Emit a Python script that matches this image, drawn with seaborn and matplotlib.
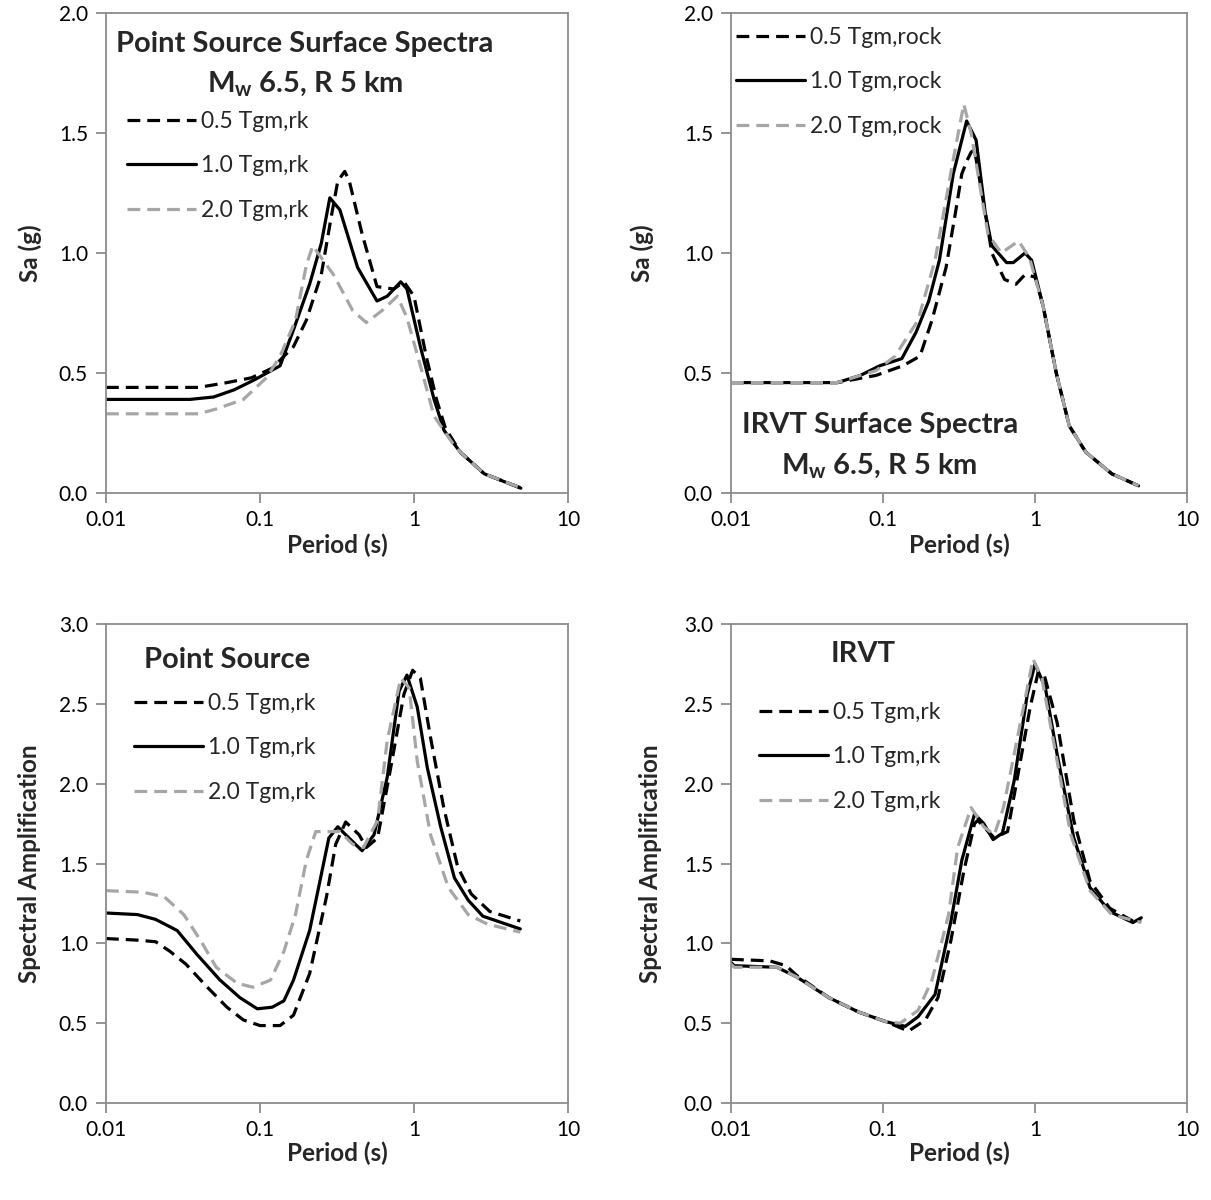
import numpy as np
import pandas as pd
import matplotlib
matplotlib.use("Agg")
import matplotlib.pyplot as plt
import matplotlib.transforms as mtransforms
import seaborn as sns
from matplotlib.ticker import FixedLocator, NullLocator

# ---------------- data ----------------
# Top-left: Point source surface spectra, Sa (g)
ps_sa_t05 = [0.01, 0.04, 0.061, 0.088, 0.12, 0.165, 0.2, 0.25, 0.29, 0.32, 0.355, 0.38, 0.46, 0.575, 0.74, 0.86, 1.0, 1.2, 1.4, 1.6, 2.0, 2.86, 5.0]
ps_sa_v05 = [0.44, 0.44, 0.46, 0.48, 0.52, 0.61, 0.72, 0.91, 1.15, 1.30, 1.34, 1.30, 1.08, 0.86, 0.85, 0.88, 0.82, 0.57, 0.39, 0.27, 0.17, 0.08, 0.02]
ps_sa_t10 = [0.01, 0.035, 0.05, 0.068, 0.091, 0.135, 0.165, 0.21, 0.25, 0.284, 0.33, 0.43, 0.575, 0.67, 0.82, 0.9, 1.1, 1.35, 1.57, 2.0, 2.86, 4.94]
ps_sa_v10 = [0.39, 0.39, 0.40, 0.43, 0.47, 0.53, 0.68, 0.87, 1.04, 1.23, 1.18, 0.94, 0.80, 0.82, 0.88, 0.85, 0.61, 0.39, 0.26, 0.17, 0.08, 0.02]
ps_sa_t20 = [0.01, 0.04, 0.052, 0.078, 0.11, 0.135, 0.17, 0.2, 0.22, 0.30, 0.40, 0.49, 0.62, 0.78, 0.90, 1.1, 1.35, 1.77, 2.0, 2.86, 5.0]
ps_sa_v20 = [0.33, 0.33, 0.35, 0.39, 0.48, 0.57, 0.72, 0.95, 1.03, 0.91, 0.76, 0.71, 0.76, 0.82, 0.73, 0.53, 0.32, 0.21, 0.17, 0.08, 0.02]

# Top-right: IRVT surface spectra, Sa (g)
irvt_sa_t05 = [0.01, 0.05, 0.09, 0.135, 0.175, 0.21, 0.26, 0.30, 0.33, 0.36, 0.38, 0.40, 0.47, 0.52, 0.63, 0.75, 0.86, 1.0, 1.13, 1.38, 1.68, 2.16, 3.2, 4.8]
irvt_sa_v05 = [0.46, 0.46, 0.49, 0.53, 0.57, 0.72, 0.94, 1.17, 1.33, 1.39, 1.42, 1.43, 1.17, 1.00, 0.89, 0.87, 0.91, 0.90, 0.78, 0.50, 0.28, 0.17, 0.08, 0.03]
irvt_sa_t10 = [0.01, 0.05, 0.071, 0.095, 0.133, 0.165, 0.2, 0.235, 0.29, 0.355, 0.41, 0.47, 0.52, 0.65, 0.72, 0.86, 0.95, 1.13, 1.38, 1.68, 2.16, 3.2, 4.8]
irvt_sa_v10 = [0.46, 0.46, 0.49, 0.53, 0.56, 0.67, 0.80, 0.97, 1.33, 1.55, 1.47, 1.17, 1.03, 0.96, 0.96, 1.00, 0.97, 0.78, 0.50, 0.28, 0.17, 0.08, 0.03]
irvt_sa_t20 = [0.01, 0.05, 0.09, 0.12, 0.17, 0.22, 0.29, 0.34, 0.38, 0.49, 0.6, 0.78, 0.92, 1.13, 1.38, 1.68, 2.16, 3.2, 4.8]
irvt_sa_v20 = [0.46, 0.46, 0.51, 0.57, 0.72, 0.97, 1.39, 1.62, 1.50, 1.08, 1.00, 1.05, 0.98, 0.78, 0.50, 0.28, 0.17, 0.08, 0.03]

# Bottom-left: Point source spectral amplification
ps_amp_t05 = [0.01, 0.016, 0.021, 0.026, 0.033, 0.045, 0.061, 0.078, 0.1, 0.135, 0.165, 0.21, 0.27, 0.31, 0.36, 0.44, 0.49, 0.58, 0.70, 0.86, 0.98, 1.1, 1.28, 1.56, 1.92, 2.35, 3.1, 4.9]
ps_amp_v05 = [1.03, 1.02, 1.01, 0.95, 0.87, 0.73, 0.60, 0.52, 0.485, 0.485, 0.55, 0.81, 1.29, 1.62, 1.76, 1.68, 1.60, 1.66, 2.08, 2.56, 2.71, 2.66, 2.29, 1.85, 1.48, 1.31, 1.20, 1.14]
ps_amp_t10 = [0.01, 0.016, 0.021, 0.029, 0.039, 0.055, 0.074, 0.096, 0.12, 0.143, 0.165, 0.21, 0.245, 0.28, 0.32, 0.36, 0.46, 0.55, 0.67, 0.80, 0.90, 1.05, 1.22, 1.49, 1.83, 2.25, 2.8, 4.9]
ps_amp_v10 = [1.19, 1.18, 1.15, 1.08, 0.93, 0.77, 0.66, 0.59, 0.60, 0.64, 0.77, 1.08, 1.39, 1.66, 1.73, 1.68, 1.58, 1.68, 2.04, 2.58, 2.68, 2.48, 2.10, 1.73, 1.41, 1.27, 1.17, 1.09]
ps_amp_t20 = [0.01, 0.0175, 0.024, 0.032, 0.041, 0.052, 0.071, 0.09, 0.117, 0.143, 0.17, 0.2, 0.23, 0.27, 0.33, 0.40, 0.47, 0.58, 0.67, 0.82, 0.93, 1.05, 1.28, 1.67, 2.25, 3.0, 4.9]
ps_amp_v20 = [1.33, 1.32, 1.29, 1.18, 1.02, 0.85, 0.75, 0.725, 0.77, 0.95, 1.18, 1.52, 1.70, 1.70, 1.70, 1.62, 1.60, 1.77, 2.27, 2.66, 2.60, 2.14, 1.68, 1.35, 1.18, 1.12, 1.07]

# Bottom-right: IRVT spectral amplification
irvt_amp_t05 = [0.01, 0.018, 0.023, 0.027, 0.044, 0.069, 0.104, 0.147, 0.19, 0.23, 0.28, 0.34, 0.40, 0.42, 0.54, 0.66, 0.76, 0.93, 1.05, 1.15, 1.40, 1.80, 2.3, 3.1, 4.4, 5.0]
irvt_amp_v05 = [0.90, 0.89, 0.86, 0.80, 0.66, 0.57, 0.51, 0.45, 0.52, 0.66, 1.02, 1.45, 1.75, 1.77, 1.66, 1.70, 2.02, 2.48, 2.70, 2.68, 2.38, 1.77, 1.39, 1.22, 1.14, 1.14]
irvt_amp_t10 = [0.01, 0.0105, 0.02, 0.027, 0.044, 0.069, 0.104, 0.14, 0.17, 0.22, 0.28, 0.33, 0.40, 0.46, 0.53, 0.61, 0.73, 0.89, 1.0, 1.17, 1.40, 1.80, 2.3, 3.1, 4.4, 5.0]
irvt_amp_v10 = [0.88, 0.86, 0.85, 0.79, 0.66, 0.57, 0.51, 0.48, 0.54, 0.68, 1.14, 1.52, 1.81, 1.75, 1.65, 1.69, 2.02, 2.56, 2.75, 2.60, 2.18, 1.66, 1.35, 1.20, 1.13, 1.16]
irvt_amp_t20 = [0.01, 0.0105, 0.02, 0.027, 0.044, 0.069, 0.104, 0.13, 0.17, 0.21, 0.27, 0.31, 0.38, 0.46, 0.54, 0.62, 0.76, 0.97, 1.11, 1.35, 1.72, 2.3, 3.2, 5.0]
irvt_amp_v20 = [0.87, 0.85, 0.85, 0.79, 0.66, 0.57, 0.51, 0.50, 0.58, 0.77, 1.18, 1.60, 1.85, 1.73, 1.68, 1.85, 2.27, 2.78, 2.66, 2.22, 1.68, 1.33, 1.18, 1.13]

labels_rk = ["0.5 Tgm,rk", "1.0 Tgm,rk", "2.0 Tgm,rk"]
labels_rock = ["0.5 Tgm,rock", "1.0 Tgm,rock", "2.0 Tgm,rock"]
x_ticks = [0.01, 0.1, 1, 10]
x_ticklabels = ["0.01", "0.1", "1", "10"]

# ---------------- styling ----------------
sns.set_style("white")
plt.rcParams['font.family'] = ['Lato', 'DejaVu Sans']
plt.rcParams['mathtext.default'] = 'regular'

W, H = 1211, 1200
fig = plt.figure(figsize=(W / 100, H / 100), dpi=100)

def fx(px):
    return px / W

def fy(py):
    return 1 - py / H

def make_ax(l, r, t, b):
    return fig.add_axes([fx(l), fy(b), fx(r) - fx(l), fy(t) - fy(b)])

GRAY = "#A6A6A6"
SPINE = "#8C8C8C"
LW = 2.3
DASH = (4.0, 2.2)
TICK_FS = 15
LABEL_FS = 17.5
LEG_FS = 16.5
TITLE_FS = 21

def draw(ax, series, labels):
    styles = [("black", True), ("black", False), (GRAY, True)]
    for (t, v), lab, (c, dashed) in zip(series, labels, styles):
        df = pd.DataFrame({"T": t, "v": v})
        if dashed:
            sns.lineplot(data=df, x="T", y="v", ax=ax, color=c, lw=LW,
                         label=lab, linestyle=(0, DASH), sort=False)
        else:
            sns.lineplot(data=df, x="T", y="v", ax=ax, color=c, lw=LW,
                         label=lab, sort=False)

def style_ax(ax, ymax, yticks, ylabel, ylab_x, xlab_y):
    ax.set_xscale("log")
    ax.set_xlim(0.01, 10)
    ax.set_ylim(0, ymax)
    ax.xaxis.set_major_locator(FixedLocator(x_ticks))
    ax.xaxis.set_minor_locator(NullLocator())
    ax.set_xticklabels(x_ticklabels)
    ax.set_yticks(yticks)
    ax.set_yticklabels([f"{y:.1f}" for y in yticks])
    for s in ax.spines.values():
        s.set_color(SPINE)
        s.set_linewidth(1.3)
    ax.tick_params(axis="both", which="major", direction="out", length=7,
                   width=1.3, color=SPINE, labelsize=TICK_FS, labelcolor="black",
                   bottom=True, left=True)
    ax.tick_params(axis="x", pad=5)
    ax.tick_params(axis="y", pad=6)
    ax.set_xlabel("Period (s)", fontsize=LABEL_FS, fontweight="bold", va="center")
    ax.set_ylabel(ylabel, fontsize=LABEL_FS, fontweight="bold", va="center")
    # place labels at the measured centres
    ax.xaxis.set_label_coords(0.5, fy(xlab_y),
        transform=mtransforms.blended_transform_factory(ax.transAxes, fig.transFigure))
    ax.yaxis.set_label_coords(fx(ylab_x), 0.5,
        transform=mtransforms.blended_transform_factory(fig.transFigure, ax.transAxes))
    ax.grid(False)

def legend(ax, x, y):
    ax.legend(loc="upper left", bbox_to_anchor=(fx(x), fy(y)),
              bbox_transform=fig.transFigure, frameon=False, fontsize=LEG_FS,
              handlelength=3.0, handletextpad=0.22, labelspacing=1.02,
              borderpad=0, borderaxespad=0)

# Panel positions (pixels)
ax1 = make_ax(106, 568, 13, 493)
ax2 = make_ax(731, 1187, 13, 493)
ax3 = make_ax(106, 568, 624, 1103)
ax4 = make_ax(731, 1187, 624, 1103)

draw(ax1, [(ps_sa_t05, ps_sa_v05), (ps_sa_t10, ps_sa_v10), (ps_sa_t20, ps_sa_v20)], labels_rk)
draw(ax2, [(irvt_sa_t05, irvt_sa_v05), (irvt_sa_t10, irvt_sa_v10), (irvt_sa_t20, irvt_sa_v20)], labels_rock)
draw(ax3, [(ps_amp_t05, ps_amp_v05), (ps_amp_t10, ps_amp_v10), (ps_amp_t20, ps_amp_v20)], labels_rk)
draw(ax4, [(irvt_amp_t05, irvt_amp_v05), (irvt_amp_t10, irvt_amp_v10), (irvt_amp_t20, irvt_amp_v20)], labels_rk)

style_ax(ax1, 2.0, [0.0, 0.5, 1.0, 1.5, 2.0], "Sa (g)", 30, 545)
style_ax(ax2, 2.0, [0.0, 0.5, 1.0, 1.5, 2.0], "Sa (g)", 642, 545)
style_ax(ax3, 3.0, [0.0, 0.5, 1.0, 1.5, 2.0, 2.5, 3.0], "Spectral Amplification", 30, 1153)
style_ax(ax4, 3.0, [0.0, 0.5, 1.0, 1.5, 2.0, 2.5, 3.0], "Spectral Amplification", 650, 1153)

legend(ax1, 127, 111)
legend(ax2, 736, 27)
legend(ax3, 134, 693)
legend(ax4, 759, 702)

def title(x, y, s):
    fig.text(fx(x), fy(y), s, ha="center", va="baseline",
             fontsize=TITLE_FS, fontweight="bold")

title(305, 52, "Point Source Surface Spectra")
title(305, 92, r"M$_{\mathregular{w}}$ 6.5, R 5 km")
title(880, 433, "IRVT Surface Spectra")
title(879, 473, r"M$_{\mathregular{w}}$ 6.5, R 5 km")
title(227, 668, "Point Source")
title(863, 662, "IRVT")

fig.savefig("out.png", dpi=100, facecolor="white")
